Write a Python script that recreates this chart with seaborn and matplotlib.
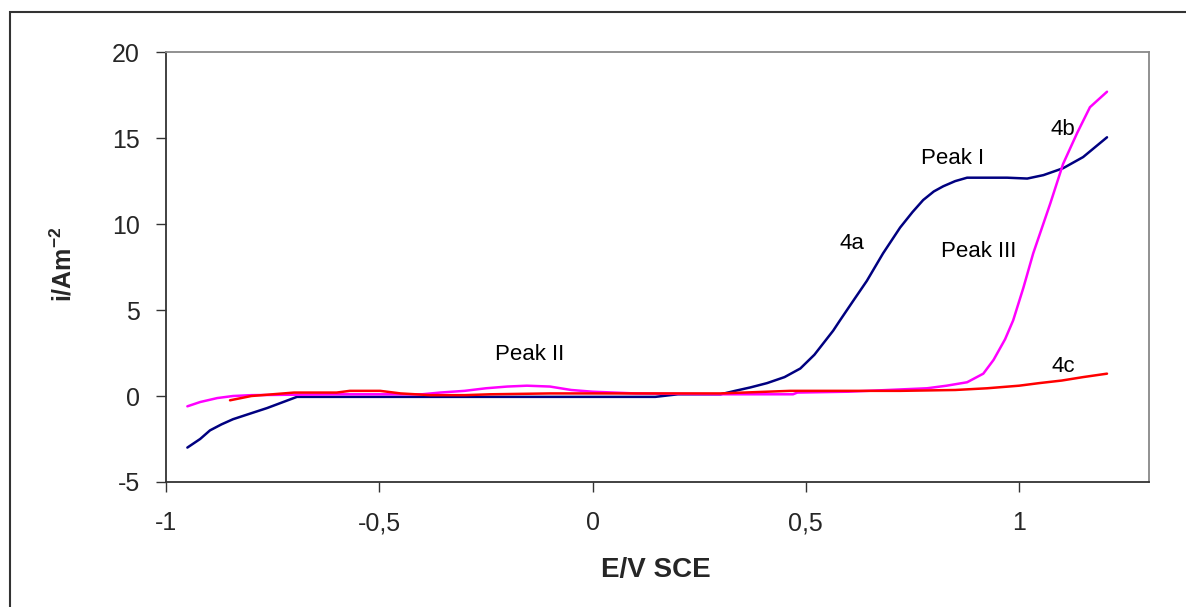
import matplotlib
matplotlib.use("Agg")
import matplotlib.pyplot as plt
import matplotlib.patches as patches
import seaborn as sns

# ================================================
#  Datos
# ================================================

# Curva 4a (azul marino)
x_4a = [-0.95, -0.92, -0.897, -0.87, -0.843, -0.80, -0.763, -0.72, -0.693, -0.6, -0.4, -0.2,
        0.0, 0.147, 0.2, 0.30, 0.334, 0.37, 0.409, 0.45, 0.487, 0.52, 0.564, 0.58, 0.61, 0.643,
        0.681, 0.721, 0.75, 0.775, 0.80, 0.822, 0.85, 0.878, 0.92, 0.972, 1.019, 1.057, 1.103,
        1.150, 1.206]
y_4a = [-3.0, -2.5, -2.0, -1.65, -1.35, -1.0, -0.7, -0.3, -0.05, -0.05, -0.05, -0.05,
        -0.05, -0.05, 0.1, 0.1, 0.3, 0.5, 0.75, 1.1, 1.6, 2.4, 3.8, 4.4, 5.5, 6.7,
        8.3, 9.8, 10.7, 11.4, 11.9, 12.2, 12.5, 12.7, 12.7, 12.7, 12.65, 12.85, 13.25,
        13.9, 15.05]

# Curva 4b (magenta)
x_4b = [-0.95, -0.92, -0.88, -0.843, -0.8, -0.6, -0.4, -0.358, -0.3, -0.25, -0.2, -0.154,
        -0.1, -0.05, 0.0, 0.1, 0.3, 0.47, 0.48, 0.6, 0.784, 0.83, 0.878, 0.916, 0.940, 0.967,
        0.986, 1.01, 1.033, 1.073, 1.103, 1.136, 1.166, 1.206]
y_4b = [-0.6, -0.35, -0.12, 0.0, 0.05, 0.1, 0.1, 0.2, 0.3, 0.45, 0.55, 0.6,
        0.55, 0.35, 0.25, 0.15, 0.1, 0.1, 0.2, 0.25, 0.45, 0.6, 0.8, 1.3, 2.1, 3.3,
        4.4, 6.3, 8.3, 11.2, 13.5, 15.3, 16.8, 17.7]

# Curva 4c (rojo)
x_4c = [-0.85, -0.8, -0.75, -0.7, -0.6, -0.569, -0.498, -0.45, -0.38, -0.3, -0.24, -0.1,
        0.1, 0.3, 0.463, 0.6, 0.721, 0.85, 0.925, 1.0, 1.047, 1.1, 1.15, 1.206]
y_4c = [-0.25, 0.0, 0.1, 0.2, 0.2, 0.3, 0.3, 0.15, 0.05, 0.05, 0.1, 0.15,
        0.15, 0.15, 0.3, 0.3, 0.3, 0.35, 0.45, 0.6, 0.75, 0.9, 1.1, 1.3]

# Ticks y etiquetas
x_ticks = [-1, -0.5, 0, 0.5, 1]
x_tick_labels = ['-1', '-0,5', '0', '0,5', '1']
y_ticks = [-5, 0, 5, 10, 15, 20]

# Anotaciones (texto, x, y)
anotaciones = [('Peak II', -0.147, 2.4), ('4a', 0.608, 8.9), ('Peak I', 0.843, 13.8),
               ('Peak III', 0.904, 8.4), ('4b', 1.103, 15.5), ('4c', 1.103, 1.7)]

# ================================================
#  Estilo
# ================================================
sns.set_style('white')
plt.rcParams['font.family'] = ['Liberation Sans', 'DejaVu Sans']
plt.rcParams['mathtext.fontset'] = 'custom'
plt.rcParams['mathtext.rm'] = 'Liberation Sans:bold'
plt.rcParams['mathtext.default'] = 'regular'
plt.rcParams['axes.unicode_minus'] = False

fig = plt.figure(figsize=(11.86, 6.07), dpi=100)
ax = fig.add_axes([0.140, 0.206, 0.829, 0.708])

# ================================================
#  Curvas
# ================================================
sns.lineplot(x=x_4a, y=y_4a, color='#000080', linewidth=1.8, sort=False, ax=ax)
sns.lineplot(x=x_4b, y=y_4b, color='#FF00FF', linewidth=1.8, sort=False, ax=ax)
sns.lineplot(x=x_4c, y=y_4c, color='#FF0000', linewidth=1.8, sort=False, ax=ax)

for texto, tx, ty in anotaciones:
    ax.text(tx, ty, texto, fontsize=16, ha='center', va='center', color='black')

# ================================================
#  Ejes
# ================================================
ax.set_xlim(-1, 1.305)
ax.set_ylim(-5, 20)
ax.set_xticks(x_ticks)
ax.set_xticklabels(x_tick_labels)
ax.set_yticks(y_ticks)
ax.tick_params(axis='both', direction='out', length=7, width=1, color='#333333',
               labelsize=18, pad=12, left=True, bottom=True)
ax.tick_params(axis='x', pad=14)

for lado in ['left', 'bottom']:
    ax.spines[lado].set_color('#333333')
    ax.spines[lado].set_linewidth(1.3)
for lado in ['top', 'right']:
    ax.spines[lado].set_color('#888888')
    ax.spines[lado].set_linewidth(1.3)

ax.set_xlabel('E/V SCE', fontsize=20, fontweight='bold')
ax.set_ylabel(r'i/Am$^{-2}$', fontsize=18, fontweight='bold')
ax.xaxis.label.set_va('center')
ax.yaxis.label.set_va('center')
ax.xaxis.set_label_coords(0.4985, -0.205)
ax.yaxis.set_label_coords(-0.105, 0.507)

# Marco exterior de la figura
marco = patches.Rectangle((10 / 1186, -0.05), 1.2, 1 - 12 / 607 + 0.05,
                          transform=fig.transFigure, fill=False,
                          edgecolor='#333333', linewidth=1.5)
fig.patches.append(marco)

fig.savefig('out.png', dpi=100)
